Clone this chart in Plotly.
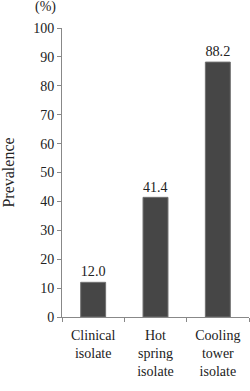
import plotly.graph_objects as go

categories = ["Clinical<br>isolate", "Hot<br>spring<br>isolate", "Cooling<br>tower<br>isolate"]
values = [12.0, 41.4, 88.2]
labels = ["12.0", "41.4", "88.2"]
y_ticks = [0, 10, 20, 30, 40, 50, 60, 70, 80, 90, 100]

font = "Liberation Serif, Times New Roman, serif"

fig = go.Figure(go.Bar(
    x=categories, y=values, text=labels, textposition="outside",
    cliponaxis=False,
    marker=dict(color="#464646", line=dict(color="#707070", width=1)),
    width=0.4,
    textfont=dict(family=font, size=15, color="#222"),
))

fig.update_layout(
    width=250, height=391,
    margin=dict(l=62, r=1, t=28, b=74),
    paper_bgcolor="white", plot_bgcolor="white",
    font=dict(family=font, size=14, color="#222"),
    showlegend=False,
    bargap=0.6,
)
fig.update_yaxes(
    range=[0, 100], tickvals=y_ticks, ticks="outside", ticklen=4,
    tickcolor="#888", showline=True, linecolor="#888", linewidth=1,
    showgrid=False, zeroline=False, tickfont=dict(size=14),
    title=dict(text="Prevalence", font=dict(size=16), standoff=16),
)
fig.update_xaxes(
    ticks="outside", tickson="boundaries", ticklen=4, tickcolor="#888",
    showline=True, linecolor="#888", linewidth=1, showgrid=False,
    tickfont=dict(size=14), ticklabelstandoff=5,
)
fig.add_annotation(text="(%)", xref="paper", yref="paper", x=-0.09, y=1.0,
                   xanchor="center", yanchor="middle",
                   yshift=21, showarrow=False, font=dict(size=14))

fig.write_html("out.html")
